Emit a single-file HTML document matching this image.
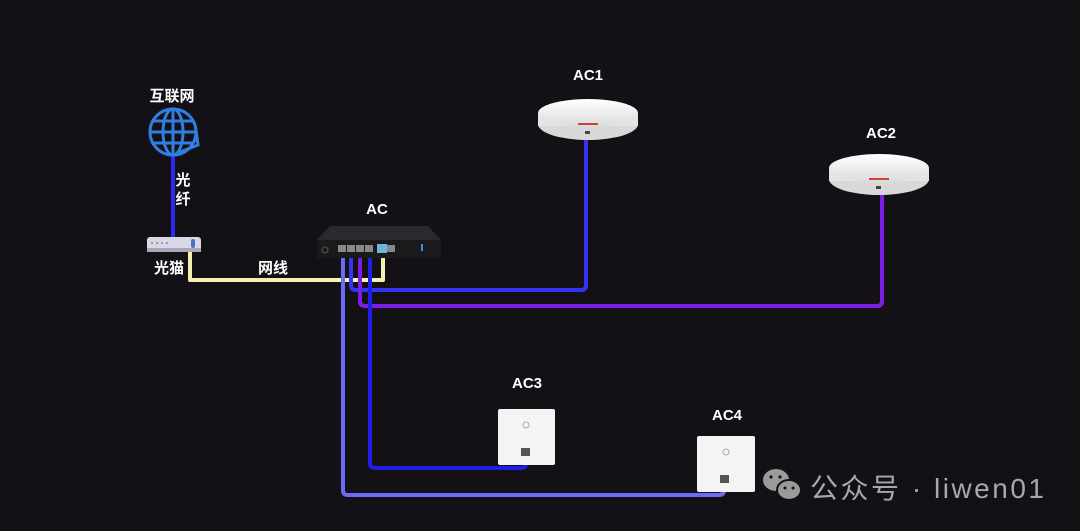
<!DOCTYPE html>
<html><head><meta charset="utf-8"><style>
html,body{margin:0;padding:0;background:#141116;}
body{width:1080px;height:531px;overflow:hidden;position:relative;font-family:"Liberation Sans","Noto Sans CJK SC",sans-serif;}
svg{position:absolute;left:0;top:0}
</style></head><body>
<svg width="1080" height="531" viewBox="0 0 1080 531">
<defs>
<linearGradient id="ap" x1="0" y1="0" x2="0" y2="1"><stop offset="0" stop-color="#ffffff"/><stop offset="1" stop-color="#dcdcdc"/></linearGradient>
</defs>
<g fill="none" stroke-width="4" stroke-linejoin="round" stroke-linecap="round">
<path d="M173 157 V240" stroke="#2a2af0"/>
<path d="M190 252 V280 H383 V252" stroke="#f5f0b0"/>
<path d="M343 252 V490 Q343 495 348 495 H719 Q724 495 724 490 V482" stroke="#6b6bf5"/>
<path d="M351 252 V285 Q351 290 356 290 H581 Q586 290 586 285 V140" stroke="#3434f2"/>
<path d="M360 252 V301 Q360 306 365 306 H877 Q882 306 882 301 V195" stroke="#7a1ee6"/>
<path d="M370 252 V463 Q370 468 375 468 H521 Q526 468 526 463 V452" stroke="#1e1ee8"/>
</g>
<g fill="none" stroke="#2f7fe0" stroke-width="3">
<circle cx="173" cy="132" r="23"/>
<ellipse cx="173" cy="132" rx="10" ry="23"/>
<line x1="173" y1="109" x2="173" y2="155"/>
<line x1="150" y1="132" x2="196" y2="132"/>
<line x1="153" y1="121" x2="193" y2="121"/>
<line x1="153" y1="143" x2="193" y2="143"/>
<path d="M180 152 L198 145 L196 130"/>
</g>
<rect x="147" y="237" width="54" height="15" rx="3" fill="#d8d8e8"/>
<rect x="147" y="248" width="54" height="4" fill="#a8a8bc"/>
<g fill="#888"><circle cx="152" cy="243" r="1"/><circle cx="157" cy="243" r="1"/><circle cx="162" cy="243" r="1"/><circle cx="167" cy="243" r="1"/></g>
<rect x="191" y="239" width="4" height="9" rx="2" fill="#5070c0"/>
<path d="M330 226 H428 L441 240 V258 H317 V240 Z" fill="#2a2a2e"/>
<rect x="317" y="240" width="124" height="18" fill="#1a1a1c"/>
<g fill="#888"><rect x="338" y="245" width="8" height="7"/><rect x="347" y="245" width="8" height="7"/><rect x="356" y="245" width="8" height="7"/><rect x="365" y="245" width="8" height="7"/><rect x="387" y="245" width="8" height="7"/></g>
<rect x="377" y="244" width="10" height="9" fill="#6ab8d8"/>
<circle cx="325" cy="250" r="3" fill="none" stroke="#555" stroke-width="1"/>
<rect x="421" y="244" width="2" height="7" fill="#3b8fe0"/>
<g>
<ellipse cx="588" cy="124" rx="50" ry="16" fill="#d8d8d8"/>
<rect x="538" y="114" width="100" height="12" fill="#e4e4e4"/>
<ellipse cx="588" cy="113" rx="50" ry="14" fill="url(#ap)"/>
<rect x="578" y="123" width="20" height="2" fill="#d04030"/>
<rect x="585" y="131" width="5" height="3" fill="#444"/>
</g>
<g>
<ellipse cx="879" cy="179" rx="50" ry="16" fill="#d8d8d8"/>
<rect x="829" y="169" width="100" height="12" fill="#e4e4e4"/>
<ellipse cx="879" cy="168" rx="50" ry="14" fill="url(#ap)"/>
<rect x="869" y="178" width="20" height="2" fill="#d04030"/>
<rect x="876" y="186" width="5" height="3" fill="#444"/>
</g>
<rect x="498" y="409" width="57" height="56" rx="2" fill="#f4f4f4"/>
<circle cx="526" cy="425" r="3" fill="none" stroke="#aaa" stroke-width="1"/>
<rect x="521" y="448" width="9" height="8" fill="#555"/>
<rect x="697" y="436" width="58" height="56" rx="2" fill="#f4f4f4"/>
<circle cx="726" cy="452" r="3" fill="none" stroke="#aaa" stroke-width="1"/>
<rect x="720" y="475" width="9" height="8" fill="#555"/>
<ellipse cx="776" cy="480" rx="13" ry="11" fill="#9a9a9a"/>
<ellipse cx="789" cy="490" rx="12" ry="10" fill="#9a9a9a" stroke="#141116" stroke-width="2"/>
<g fill="#141116"><circle cx="771" cy="477" r="1.6"/><circle cx="780" cy="477" r="1.6"/><circle cx="785" cy="488" r="1.5"/><circle cx="793" cy="488" r="1.5"/></g>
<g fill="#fff" font-weight="bold" font-size="15" text-anchor="middle">
<text x="172" y="101">互联网</text>
<text x="183" y="185">光</text>
<text x="183" y="204">纤</text>
<text x="169" y="273">光猫</text>
<text x="273" y="273">网线</text>
<text x="377" y="214">AC</text>
<text x="588" y="80">AC1</text>
<text x="881" y="138">AC2</text>
<text x="527" y="388">AC3</text>
<text x="727" y="420">AC4</text>
</g>
<text x="810" y="498" fill="#a8a8a8" font-size="28" textLength="234" lengthAdjust="spacing">公众号 · liwen01</text>
</svg>
</body></html>
